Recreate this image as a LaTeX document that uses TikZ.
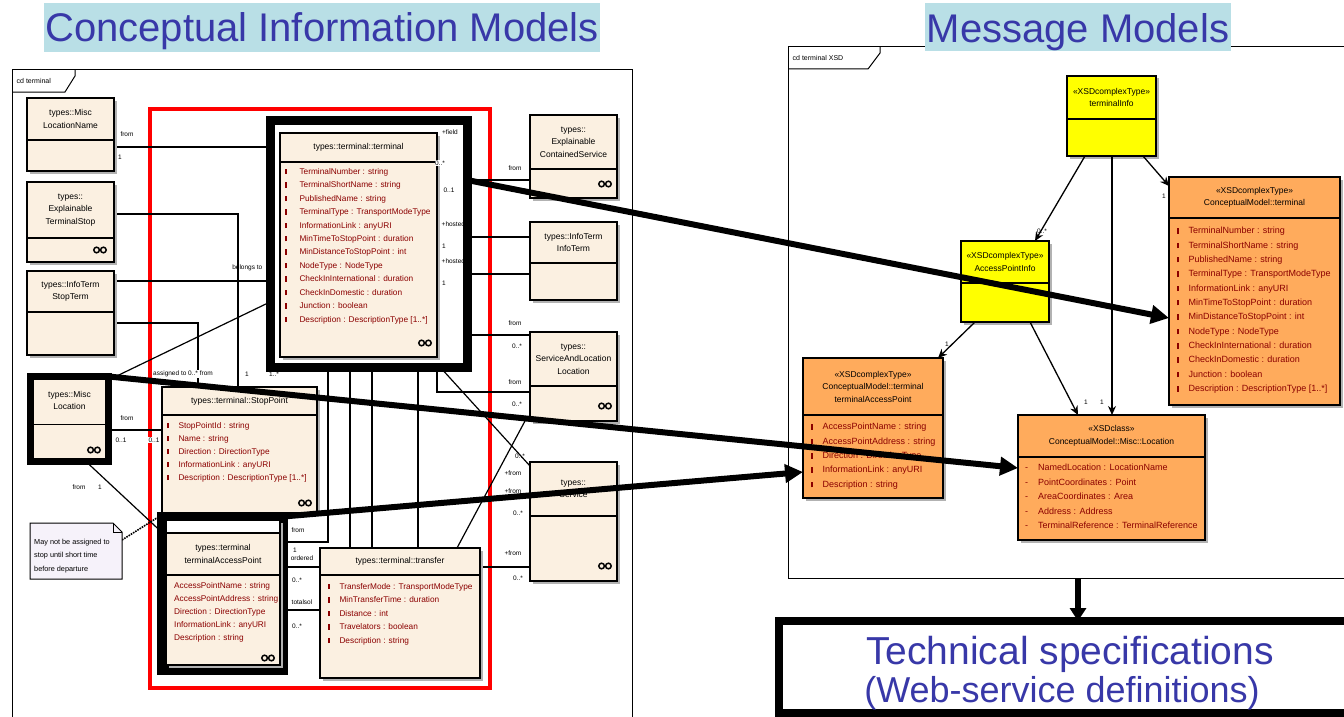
\documentclass[tikz,border=0pt]{standalone}
\usepackage{fontspec}
\setmainfont{Liberation Sans}
\usetikzlibrary{arrows.meta,calc,shadows}
\definecolor{beige}{HTML}{FBF0E1}
\definecolor{orng}{HTML}{FFAB5C}
\definecolor{yel}{HTML}{FFFF00}
\definecolor{dred}{HTML}{8B0000}
\definecolor{titleblue}{HTML}{3838A8}
\definecolor{titlebg}{HTML}{B9DFE6}
\definecolor{notefill}{HTML}{F6F2FA}
\newcommand\atb[1][10pt]{\rule{1.3pt}{5.5pt}\hspace{#1}}
\newcommand\atB{\atb[13pt]}
\newcommand\dsh{-\hspace{10pt}}
\newcommand\ooi[2]{\draw[line width=1.5pt] (#1-3.4,#2) circle[radius=2.8pt] (#1+3.4,#2) circle[radius=2.8pt];}
\newcommand\cls[8]{%
  \node[cls,#7,minimum width=#4pt,minimum height=#5pt,anchor=north west] (#1) at (#2,#3) {};
  \draw[divl] ($(#1.north west)+(0,#6)$) -- ($(#1.north east)+(0,#6)$);
  \node[hdr] (#1h) at ($(#1.north)+(0,#6/2)$) {#8};}
\begin{document}
\begin{tikzpicture}[x=1pt,y=-1pt,
 cls/.style={draw=black,line width=1.5pt,fill=beige,rectangle,inner sep=0pt,outer sep=0pt,
   drop shadow={shadow xshift=2.5pt,shadow yshift=-2.5pt,fill=black!30,opacity=1}},
 divl/.style={line width=1.3pt},
 hdr/.style={font=\fontsize{8.5}{12.5}\selectfont,align=center,inner sep=0pt},
 attr/.style={align=left,inner sep=0pt,text=dred,anchor=north west},
 frm/.style={draw,line width=1pt,anchor=north west,inner sep=0pt,outer sep=0pt},
 conn/.style={line width=1.2pt},
 lbl/.style={font=\fontsize{6.5}{7}\selectfont,inner sep=0.5pt},
 bigarr/.style={line width=6pt,-{Triangle[length=18pt,width=18pt]}},
 xarr/.style={line width=1.3pt,-{Stealth[length=9pt,width=8pt]}},
 ttl/.style={text=titleblue,font=\fontsize{40}{40}\selectfont,inner sep=0pt,anchor=base},
]
\useasboundingbox (0,0) rectangle (1344,717);
\fill[white] (0,0) rectangle (1344,717);

% ---------- frames ----------
\node[frm,minimum width=620pt,minimum height=670pt] (lframe) at (12,70) {};
\draw[line width=1pt] (12,92) -- (65,92) -- (75,76) -- (75,70);
\node[lbl,anchor=west,font=\fontsize{7}{8}\selectfont] (lftab) at (16,81) {cd terminal};
\node[frm,minimum width=580pt,minimum height=531pt] (rframe) at (788,47) {};
\draw[line width=1pt] (788,69) -- (868,69) -- (880,53) -- (880,47);
\node[lbl,anchor=west,font=\fontsize{7}{8}\selectfont] (rftab) at (792,58) {cd terminal XSD};

% ---------- titles ----------
\fill[titlebg] (44,3) rectangle (600,52);
\node[ttl] (t1) at (322,42) {Conceptual Information Models};
\fill[titlebg] (925,3) rectangle (1231,51);
\node[ttl] (t2) at (1078,43) {Message Models};

% ---------- red highlight ----------
\draw[red,line width=4pt] (150,109) rectangle (490,688);

% ---------- placeholder nodes needed for connectors (drawn later) ----------
\path (270,120) node[frm,draw=none,minimum width=197pt,minimum height=247pt] (termframe) {};
\path (161.5,516.5) node[frm,draw=none,minimum width=122pt,minimum height=154pt] (accframe) {};
\path (27,98) node[frm,draw=none,minimum width=87pt,minimum height=73pt] (mlocname) {};
\path (27,182) node[frm,draw=none,minimum width=87pt,minimum height=80pt] (expstop) {};
\path (27,271) node[frm,draw=none,minimum width=87pt,minimum height=84pt] (infostop) {};
\path (30.5,376.5) node[frm,draw=none,minimum width=78pt,minimum height=85pt] (misc) {};
\path (162,387) node[frm,draw=none,minimum width=155pt,minimum height=126pt] (stop) {};
\path (320,548) node[frm,draw=none,minimum width=160pt,minimum height=130pt] (xfer) {};
\path (530,115) node[frm,draw=none,minimum width=87pt,minimum height=83pt] (expserv) {};
\path (530,222) node[frm,draw=none,minimum width=87pt,minimum height=78pt] (infoterm) {};
\path (530,332) node[frm,draw=none,minimum width=87pt,minimum height=89pt] (servloc) {};
\path (530,462) node[frm,draw=none,minimum width=87pt,minimum height=119pt] (serv) {};
\path (30,523) node[frm,draw=none,minimum width=92pt,minimum height=56pt] (note) {};

% ---------- thin connectors (left) ----------
\draw[conn] (mlocname.east |- 0,147) -- (termframe.west |- 0,147);
\draw[conn] (expstop.east |- 0,214) -| (stop.north -| 238,0);
\draw[conn] (infostop.east |- 0,281) -- (termframe.west |- 0,281);
\draw[conn] (infostop.east |- 0,323) -| (stop.north -| 198,0);
\draw[conn] (misc.east |- 0,380) -- (termframe.west |- 0,302);
\draw[conn] (misc.east |- 0,430) -- (stop.west |- 0,430);
\draw[conn] (misc.south -| 86,0) -- (accframe.west |- 0,532);
\draw[line width=1.6pt,densely dotted] (note.east |- 0,540) -- (accframe.west |- 0,515);
\draw[conn] (termframe.east |- 0,180) -- (expserv.west |- 0,180);
\draw[conn] (termframe.east |- 0,237) -- (infoterm.west |- 0,237);
\draw[conn] (termframe.east |- 0,274) -- (infoterm.west |- 0,274);
\draw[conn] (termframe.east |- 0,335) -- (servloc.west |- 0,335);
\draw[conn] (termframe.south -| 437,0) |- (servloc.west |- 0,392);
\draw[conn] (termframe.south -| 440,0) -- (serv.west |- 0,466);
\draw[conn] (xfer.north -| 457,0) -- (servloc.south -| 525,0);
\draw[conn] (xfer.east |- 0,567) -- (serv.west |- 0,567);
\draw[conn] (termframe.south -| 350,0) -- (xfer.north -| 350,0);
\draw[conn] (termframe.south -| 372,0) -- (xfer.north -| 372,0);
\draw[conn] (termframe.south -| 418,0) -- (xfer.north -| 418,0);
\draw[conn] (accframe.east |- 0,542) -| (termframe.south -| 328,0);
\draw[conn] (accframe.east |- 0,567) -- (xfer.west |- 0,567);
\draw[conn] (accframe.east |- 0,610) -- (xfer.west |- 0,610);

% ---------- left classes ----------
\cls{mlocname}{27}{98}{87}{73}{42}{}{types::Misc\\LocationName}
\cls{expstop}{27}{182}{87}{80}{56}{}{types::\\Explainable\\TerminalStop}
\ooi{100}{250}
\cls{infostop}{27}{271}{87}{84}{41}{}{types::InfoTerm\\StopTerm}
\cls{misc}{30.5}{376.5}{78}{85}{48}{line width=7pt}{types::Misc\\Location}
\ooi{94}{450}

\node[frm,line width=9pt,minimum width=197pt,minimum height=247pt] (termframeb) at (270,120) {};
\cls{term}{280}{133}{157}{224}{29}{}{types::terminal::terminal}
\node[attr,font=\fontsize{8.3}{13.45}\selectfont] (terma) at (285,168) {\atB TerminalNumber : string\\\atB TerminalShortName : string\\\atB PublishedName : string\\\atB TerminalType : TransportModeType\\\atB InformationLink : anyURI\\\atB MinTimeToStopPoint : duration\\\atB MinDistanceToStopPoint : int\\\atB NodeType : NodeType\\\atB CheckInInternational : duration\\\atB CheckInDomestic : duration\\\atB Junction : boolean\\\atB Description : DescriptionType [1..*]};
\ooi{425}{343}

\cls{expserv}{530}{115}{87}{83}{54}{}{types::\\Explainable\\ContainedService}
\ooi{605}{184}
\cls{infoterm}{530}{222}{87}{78}{41}{}{types::InfoTerm\\InfoTerm}
\cls{servloc}{530}{332}{87}{89}{54}{}{types::\\ServiceAndLocation\\Location}
\ooi{605}{406}
\cls{serv}{530}{462}{87}{119}{54}{}{types::\\Service}
\ooi{605}{566}

\cls{stop}{162}{387}{155}{126}{28}{}{types::terminal::StopPoint}
\node[attr,font=\fontsize{8.3}{13}\selectfont] (stopa) at (167,422) {\atb StopPointId : string\\\atb Name : string\\\atb Direction : DirectionType\\\atb InformationLink : anyURI\\\atb Description : DescriptionType [1..*]};
\ooi{305}{503}

\node[frm,line width=9pt,minimum width=122pt,minimum height=154pt] (accframeb) at (161.5,516.5) {};
\cls{access}{166}{520}{114}{145}{55}{}{}
\draw[divl,fill=white] (access.north west) rectangle ($(access.north east)+(0,13)$);
\node[hdr] (accessh2) at (223,554) {types::terminal\\terminalAccessPoint};
\node[attr,font=\fontsize{8.3}{13}\selectfont] (accessa) at (174,582) {AccessPointName : string\\AccessPointAddress : string\\Direction : DirectionType\\InformationLink : anyURI\\Description : string};
\ooi{268}{658}

\cls{xfer}{320}{548}{160}{130}{27}{}{types::terminal::transfer}
\node[attr,font=\fontsize{8.3}{13.5}\selectfont] (xfera) at (328,583) {\atb TransferMode : TransportModeType\\\atb MinTransferTime : duration\\\atb Distance : int\\\atb Travelators : boolean\\\atb Description : string};

% note
\draw[fill=notefill,line width=1pt] (note.north west) -- ($(note.north east)+(-9,0)$) -- ($(note.north east)+(0,9)$) -- (note.south east) -- (note.south west) -- cycle;
\draw[line width=0.8pt] ($(note.north east)+(-9,0)$) -- ($(note.north east)+(-9,9)$) -- ($(note.north east)+(0,9)$);
\node[font=\fontsize{7.3}{13.5}\selectfont,align=left,anchor=north west,inner sep=0pt] (notet) at (34,539) {May not be assigned to\\stop until short time\\before departure};

% ---------- right classes ----------
\cls{yinfo}{1067}{76}{89}{80}{43}{fill=yel}{«XSDcomplexType»\\terminalInfo}
\cls{yap}{961}{241}{88}{81}{42}{fill=yel}{«XSDcomplexType»\\AccessPointInfo}
\cls{oterm}{1169}{177}{171}{228}{41}{fill=orng}{«XSDcomplexType»\\ConceptualModel::terminal}
\node[attr,font=\fontsize{9}{14.35}\selectfont] (oterma) at (1177,227) {\atb TerminalNumber : string\\\atb TerminalShortName : string\\\atb PublishedName : string\\\atb TerminalType : TransportModeType\\\atb InformationLink : anyURI\\\atb MinTimeToStopPoint : duration\\\atb MinDistanceToStopPoint : int\\\atb NodeType : NodeType\\\atb CheckInInternational : duration\\\atb CheckInDomestic : duration\\\atb Junction : boolean\\\atb Description : DescriptionType [1..*]};
\cls{oacc}{803}{358}{140}{140}{57}{fill=orng}{«XSDcomplexType»\\ConceptualModel::terminal\\terminalAccessPoint}
\node[attr,font=\fontsize{9}{14.4}\selectfont] (oacca) at (811,423) {\atb AccessPointName : string\\\atb AccessPointAddress : string\\\atb Direction : DirectionType\\\atb InformationLink : anyURI\\\atb Description : string};
\cls{oloc}{1018}{415}{187}{125}{42}{fill=orng}{«XSDclass»\\ConceptualModel::Misc::Location}
\node[attr,font=\fontsize{9}{14.5}\selectfont] (oloca) at (1025,464) {\dsh NamedLocation : LocationName\\\dsh PointCoordinates : Point\\\dsh AreaCoordinates : Area\\\dsh Address : Address\\\dsh TerminalReference : TerminalReference};

% right thin arrows
\draw[xarr] (yinfo.south -| 1085,0) -- (yap.north -| 1035,0);
\draw[xarr] (yinfo.south -| 1112,0) -- (oloc.north -| 1112,0);
\draw[xarr] (yinfo.south -| 1143,0) -- (oterm.west |- 0,186);
\draw[xarr] (yap.south -| 975,0) -- (oacc.north -| 938,0);
\draw[xarr] (yap.south -| 1030,0) -- (oloc.north -| 1078,0);

% ---------- bottom box ----------
\node[frm,line width=8pt,minimum width=580pt,minimum height=92pt] (tech) at (779,621) {};
\node[font=\fontsize{39}{40}\selectfont,text=titleblue,anchor=base,inner sep=0pt] (tech1) at (1070,664) {Technical specifications};
\node[font=\fontsize{36}{37}\selectfont,text=titleblue,anchor=base,inner sep=0pt] (tech2) at (1062,702) {(Web-service definitions)};

% ---------- thick arrows ----------
\draw[bigarr] (termframe.east |- 0,180) -- (oterm.west |- 0,318);
\draw[bigarr] (misc.north east) -- (oloc.west |- 0,468);
\draw[bigarr] (accframe.north east) -- (oacc.west |- 0,472);
\draw[line width=6pt,-{Triangle[length=13pt,width=16pt]}] (rframe.south -| 1078,0) -- (tech.north -| 1078,0);

% ---------- labels ----------
\node[lbl] (la1) at (127,134) {from};
\node[lbl] (la2) at (120,157) {1};
\node[lbl,anchor=east] (la3) at (263,268) {belongs to};
\node[lbl,fill=white] (la4) at (183,374) {assigned to 0..* from};
\node[lbl] (la5) at (247,374) {1};
\node[lbl] (la6) at (274,374) {1..*};
\node[lbl] (la7) at (127,418) {from};
\node[lbl] (la8) at (121,440) {0..1};
\node[lbl,fill=white] (la9) at (154,440) {0..1};
\node[lbl] (la10) at (79,487) {from};
\node[lbl] (la11) at (100,487) {1};
\node[lbl] (la12) at (450,132) {+field};
\node[lbl,fill=white] (la13) at (440,163) {0..*};
\node[lbl] (la14) at (449,190) {0..1};
\node[lbl] (la15) at (515,168) {from};
\node[lbl,anchor=west] (la16) at (441,224) {+hosted};
\node[lbl] (la17) at (444,246) {1};
\node[lbl,anchor=west] (la18) at (441,261) {+hosted};
\node[lbl] (la19) at (444,283) {1};
\node[lbl] (la20) at (515,323) {from};
\node[lbl] (la21) at (517,346) {0..*};
\node[lbl] (la22) at (515,382) {from};
\node[lbl] (la23) at (517,404) {0..*};
\node[lbl] (la24) at (520,456) {0..*};
\node[lbl] (la25) at (513,473) {+from};
\node[lbl] (la26) at (513,491) {+from};
\node[lbl] (la27) at (518,513) {0..*};
\node[lbl] (la28) at (513,553) {+from};
\node[lbl] (la29) at (518,578) {0..*};
\node[lbl] (la30) at (298,530) {from};
\node[lbl] (la31) at (295,550) {1};
\node[lbl] (la32) at (302,558) {ordered};
\node[lbl] (la33) at (297,580) {0..*};
\node[lbl] (la34) at (302,602) {totalsol};
\node[lbl] (la35) at (297,626) {0..*};
\node[lbl] (ra1) at (1042,231) {0..*};
\node[lbl] (ra2) at (1164,196) {1};
\node[lbl] (ra3) at (947,344) {1};
\node[lbl] (ra4) at (1086,402) {1};
\node[lbl] (ra5) at (1102,402) {1};
\end{tikzpicture}
\end{document}
